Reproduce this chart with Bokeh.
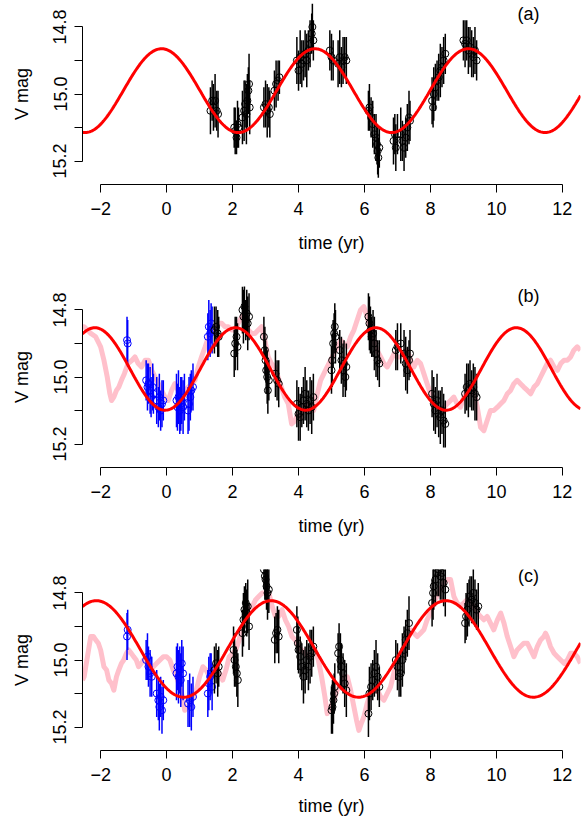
import numpy as np
from bokeh.plotting import figure
from bokeh.models import Range1d, FixedTicker, Label, ColumnDataSource
from bokeh.layouts import column
from bokeh.embed import file_html
from bokeh.resources import INLINE

# ---------------- data: panel (a) ----------------
a_t = [1.33, 1.38, 1.42, 1.47, 1.52, 1.56,
       2.05, 2.08, 2.12, 2.15, 2.18,
       2.30, 2.35, 2.38, 2.42, 2.45, 2.48, 2.50, 2.52,
       2.95, 3.00, 3.05, 3.10, 3.13,
       3.27, 3.32, 3.38, 3.42,
       3.95, 4.00, 4.05, 4.10, 4.15, 4.20, 4.25, 4.30, 4.35, 4.40, 4.42, 4.45,
       4.95, 5.00, 5.05, 5.20, 5.25, 5.30, 5.35, 5.40, 5.45,
       6.12, 6.15, 6.20, 6.25, 6.30, 6.35, 6.38, 6.40, 6.42, 6.45,
       6.88, 6.92, 6.95, 7.00, 7.10, 7.15, 7.20, 7.25, 7.30, 7.35, 7.38,
       8.05, 8.08, 8.10, 8.15, 8.20, 8.25, 8.30, 8.35, 8.40, 8.45,
       9.00, 9.05, 9.10, 9.15, 9.20, 9.25, 9.30, 9.35, 9.40]
a_mag = [15.05, 15.02, 15.04, 15.02, 15.05, 15.06,
         15.10, 15.11, 15.13, 15.09, 15.10,
         15.07, 15.05, 15.03, 15.06, 15.02, 14.99, 14.97, 15.04,
         15.04, 15.03, 15.05, 15.04, 15.06,
         14.99, 14.97, 14.96, 14.95,
         14.90, 14.93, 14.89, 14.91, 14.90, 14.88, 14.90, 14.87, 14.85, 14.82, 14.80, 14.84,
         14.87, 14.89, 14.90, 14.91, 14.89, 14.92, 14.90, 14.89, 14.90,
         15.05, 15.04, 15.07, 15.09, 15.12, 15.13, 15.15, 15.17, 15.19, 15.16,
         15.14, 15.12, 15.16, 15.12, 15.12, 15.14, 15.16, 15.13, 15.10, 15.07, 15.08,
         15.02, 15.04, 15.00, 14.98, 14.96, 14.95, 14.93, 14.92, 14.90, 14.88,
         14.84, 14.85, 14.84, 14.87, 14.86, 14.88, 14.89, 14.87, 14.90]
a_err = [0.07, 0.06, 0.07, 0.08, 0.06, 0.07,
         0.06, 0.07, 0.05, 0.07, 0.06,
         0.08, 0.09, 0.07, 0.09, 0.08, 0.07, 0.09, 0.08,
         0.06, 0.07, 0.08, 0.06, 0.07,
         0.06, 0.07, 0.06, 0.05,
         0.07, 0.06, 0.08, 0.07, 0.06, 0.07, 0.08, 0.06, 0.07, 0.06, 0.07, 0.06,
         0.06, 0.07, 0.06, 0.07, 0.08, 0.06, 0.07, 0.06, 0.07,
         0.06, 0.07, 0.06, 0.07, 0.06, 0.07, 0.06, 0.07, 0.06, 0.06,
         0.07, 0.06, 0.07, 0.06, 0.08, 0.06, 0.07, 0.06, 0.07, 0.08, 0.06,
         0.07, 0.06, 0.08, 0.07, 0.06, 0.07, 0.08, 0.06, 0.07, 0.06,
         0.06, 0.07, 0.06, 0.07, 0.06, 0.07, 0.06, 0.07, 0.06]
# sinusoid model (a): period, time of maximum brightness, mean, semi-amplitude
a_period, a_tmax, a_mean, a_amp = 4.65, -0.15, 14.99, 0.125

# ---------------- data: panel (b) ----------------
b_blue_t = [-1.20, -1.18,
            -0.62, -0.58, -0.55, -0.50, -0.47, -0.42, -0.40,
            -0.30, -0.25, -0.22, -0.18, -0.14, -0.10,
            0.30, 0.33, 0.36, 0.40, 0.43, 0.46, 0.50, 0.54,
            0.65, 0.68, 0.72, 0.75, 0.80,
            1.25, 1.28, 1.32, 1.35, 1.38]
b_blue_mag = [14.89, 14.90,
              15.01, 15.03, 15.02, 15.04, 15.06, 15.03, 15.05,
              15.07, 15.09, 15.06, 15.10, 15.08, 15.07,
              15.07, 15.09, 15.06, 15.10, 15.08, 15.07, 15.09, 15.06,
              15.10, 15.08, 15.06, 15.04, 15.03,
              14.88, 14.85, 14.87, 14.84, 14.86]
b_blue_err = [0.07, 0.07,
              0.06, 0.07, 0.06, 0.07, 0.06, 0.07, 0.06,
              0.07, 0.06, 0.07, 0.06, 0.07, 0.06,
              0.08, 0.07, 0.08, 0.07, 0.08, 0.07, 0.08, 0.07,
              0.07, 0.08, 0.07, 0.06, 0.07,
              0.07, 0.08, 0.07, 0.06, 0.07]
b_t = [1.45, 1.50, 1.55, 1.58,
       2.05, 2.08, 2.12, 2.15,
       2.30, 2.33, 2.36, 2.40, 2.43, 2.46, 2.50,
       2.95, 2.98, 3.00, 3.02, 3.05, 3.07, 3.10,
       3.30, 3.35, 3.40,
       3.95, 4.00, 4.05, 4.10, 4.15, 4.20, 4.25, 4.30, 4.35, 4.40, 4.45,
       5.00, 5.02, 5.05, 5.08, 5.10, 5.12,
       5.25, 5.30, 5.35, 5.38, 5.42, 5.45,
       6.12, 6.15, 6.18, 6.22, 6.26, 6.30, 6.35, 6.40, 6.45,
       6.95, 7.00, 7.10, 7.20, 7.25, 7.30, 7.35, 7.38,
       8.05, 8.10, 8.15, 8.20, 8.25, 8.30, 8.35, 8.40, 8.45,
       9.05, 9.10, 9.15, 9.20, 9.25, 9.30, 9.35, 9.40]
b_mag = [14.86, 14.85, 14.87, 14.88,
         14.93, 14.90, 14.88, 14.91,
         14.80, 14.82, 14.79, 14.83, 14.81, 14.84, 14.82,
         14.88, 14.92, 14.95, 14.98, 15.00, 15.04, 15.01,
         14.99, 15.01, 15.02,
         15.08, 15.11, 15.12, 15.09, 15.07, 15.05, 15.08, 15.10, 15.07, 15.09, 15.06,
         14.98, 14.95, 14.90, 14.87, 14.85, 14.88,
         14.92, 14.95, 14.98, 14.96, 15.00, 14.97,
         14.82, 14.84, 14.86, 14.88, 14.87, 14.90, 14.93, 14.95, 14.96,
         14.92, 14.91, 14.90, 14.93, 14.96, 14.98, 14.95, 14.93,
         15.05, 15.08, 15.10, 15.07, 15.11, 15.12, 15.10, 15.13, 15.14,
         15.05, 15.03, 15.04, 15.02, 15.04, 15.03, 15.05, 15.06]
b_err = [0.07, 0.06, 0.07, 0.06,
         0.07, 0.08, 0.06, 0.07,
         0.07, 0.08, 0.07, 0.06, 0.07, 0.08, 0.07,
         0.06, 0.07, 0.06, 0.07, 0.08, 0.07, 0.06,
         0.07, 0.06, 0.07,
         0.07, 0.08, 0.07, 0.06, 0.07, 0.08, 0.07, 0.06, 0.07, 0.08, 0.07,
         0.07, 0.08, 0.07, 0.06, 0.07, 0.08,
         0.06, 0.07, 0.08, 0.07, 0.06, 0.07,
         0.07, 0.08, 0.07, 0.06, 0.07, 0.08, 0.07, 0.06, 0.07,
         0.06, 0.07, 0.06, 0.07, 0.08, 0.07, 0.06, 0.07,
         0.07, 0.08, 0.07, 0.08, 0.07, 0.08, 0.07, 0.08, 0.07,
         0.06, 0.07, 0.08, 0.07, 0.06, 0.07, 0.08, 0.07]
b_pink_t = [-2.55, -2.50, -2.40, -2.30, -2.15, -2.05, -2.00, -1.90, -1.80, -1.72,
            -1.67, -1.60, -1.52, -1.45, -1.37, -1.28, -1.17, -1.05, -0.96, -0.86,
            -0.76, -0.65, -0.55, -0.45, -0.35, -0.25, -0.15, -0.05, 0.05, 0.15,
            0.25, 0.35, 0.46, 0.56, 0.66, 0.76, 0.86, 0.96, 1.06, 1.17,
            1.27, 1.37, 1.47, 1.57, 1.67, 1.77, 1.87, 1.97, 2.07, 2.17,
            2.28, 2.38, 2.48, 2.58, 2.68, 2.78, 2.88, 2.98, 3.08, 3.18,
            3.28, 3.38, 3.48, 3.58, 3.69, 3.79, 3.90, 3.97, 4.07, 4.17,
            4.27, 4.37, 4.46, 4.57, 4.67, 4.77, 4.87, 4.97, 5.07, 5.18,
            5.28, 5.38, 5.48, 5.58, 5.68, 5.78, 5.88, 5.98, 6.08, 6.18,
            6.28, 6.38, 6.49, 6.59, 6.69, 6.80, 6.90, 7.00, 7.10, 7.20,
            7.30, 7.40, 7.50, 7.60, 7.70, 7.80, 7.90, 8.00, 8.10, 8.20,
            8.30, 8.41, 8.51, 8.61, 8.71, 8.81, 8.91, 9.01, 9.11, 9.21,
            9.32, 9.42, 9.52, 9.62, 9.72, 9.82, 9.92, 10.03, 10.13, 10.23,
            10.33, 10.43, 10.53, 10.63, 10.73, 10.83, 10.94, 11.04, 11.14, 11.24,
            11.34, 11.44, 11.54, 11.64, 11.75, 11.85, 11.95, 12.05, 12.15, 12.25,
            12.35, 12.45, 12.55]
b_pink_mag = [14.85, 14.85, 14.86, 14.87, 14.88, 14.90, 14.91, 14.95, 15.00, 15.05,
              15.07, 15.06, 15.04, 15.03, 15.01, 14.99, 14.96, 14.95, 14.94, 14.96,
              14.97, 14.95, 14.95, 14.98, 15.00, 15.02, 15.04, 15.06, 15.07, 15.04,
              15.02, 15.04, 15.05, 15.04, 15.03, 15.02, 15.01, 14.97, 14.94, 14.91,
              14.88, 14.86, 14.85, 14.84, 14.84, 14.85, 14.85, 14.86, 14.86, 14.84,
              14.82, 14.84, 14.86, 14.87, 14.87, 14.86, 14.85, 14.89, 14.94, 14.96,
              14.97, 15.00, 15.03, 15.06, 15.08, 15.14, 15.13, 15.11, 15.12, 15.09,
              15.08, 15.10, 15.10, 15.05, 15.01, 14.99, 14.97, 14.95, 14.93, 14.91,
              14.89, 14.90, 14.91, 14.88, 14.86, 14.83, 14.80, 14.79, 14.82, 14.86,
              14.89, 14.92, 14.94, 14.96, 14.97, 14.95, 14.93, 14.94, 14.94, 14.93,
              14.92, 14.95, 14.97, 14.95, 14.96, 14.99, 15.02, 15.05, 15.07, 15.09,
              15.10, 15.09, 15.08, 15.07, 15.06, 15.08, 15.09, 15.06, 15.04, 15.05,
              15.04, 15.09, 15.15, 15.16, 15.13, 15.10, 15.10, 15.09, 15.08, 15.07,
              15.05, 15.04, 15.02, 15.01, 15.02, 15.03, 15.04, 15.05, 15.03, 15.02,
              15.00, 14.98, 14.96, 14.95, 14.97, 14.98, 14.96, 14.95, 14.95, 14.94,
              14.92, 14.91, 14.92]
b_period, b_tmax, b_mean, b_amp = 4.26, -2.175, 14.976, 0.123

# ---------------- data: panel (c) ----------------
c_blue_t = [-1.20, -1.18,
            -0.62, -0.58, -0.55, -0.50, -0.45,
            -0.30, -0.25, -0.22, -0.18, -0.14, -0.10,
            0.30, 0.33, 0.36, 0.40, 0.43, 0.46, 0.50,
            0.65, 0.70, 0.75, 0.80,
            1.25, 1.28, 1.32, 1.35, 1.38]
c_blue_mag = [14.93, 14.91,
              15.00, 14.99, 15.02, 15.04, 15.05,
              15.10, 15.12, 15.14, 15.11, 15.15, 15.12,
              15.04, 15.02, 15.05, 15.03, 15.06, 15.01, 15.04,
              15.13, 15.12, 15.14, 15.11,
              15.10, 15.07, 15.05, 15.04, 15.08]
c_blue_err = [0.07, 0.06,
              0.06, 0.07, 0.06, 0.07, 0.06,
              0.07, 0.06, 0.07, 0.06, 0.07, 0.06,
              0.08, 0.07, 0.08, 0.07, 0.08, 0.07, 0.08,
              0.07, 0.08, 0.07, 0.06,
              0.07, 0.08, 0.07, 0.06, 0.07]
c_t = [1.45, 1.50, 1.55, 1.58,
       2.03, 2.06, 2.10, 2.13, 2.16,
       2.30, 2.33, 2.36, 2.40, 2.43, 2.46, 2.50,
       2.95, 2.98, 3.00, 3.03, 3.06, 3.10,
       3.28, 3.32, 3.36, 3.40,
       3.95, 3.98, 4.00, 4.05, 4.10, 4.15, 4.20, 4.25, 4.30, 4.35, 4.40, 4.45,
       5.00, 5.03, 5.06, 5.08, 5.10,
       5.20, 5.23, 5.27, 5.30, 5.35, 5.40, 5.45,
       6.12, 6.15, 6.20, 6.25, 6.30, 6.35, 6.40, 6.45,
       6.95, 7.00, 7.05, 7.10, 7.15, 7.20, 7.25, 7.30, 7.35,
       8.05, 8.08, 8.10, 8.15, 8.20, 8.25, 8.30, 8.35, 8.40, 8.45,
       9.05, 9.08, 9.12, 9.17, 9.20, 9.25, 9.30, 9.35, 9.40, 9.45]
c_mag = [15.03, 15.01, 15.04, 15.02,
         14.97, 15.00, 15.02, 15.04, 15.06,
         14.92, 14.88, 14.85, 14.83, 14.86, 14.84, 14.90,
         14.73, 14.75, 14.76, 14.78, 14.80, 14.79,
         14.94, 14.92, 14.91, 14.93,
         14.91, 14.95, 14.97, 14.99, 15.02, 15.05, 15.03, 15.00, 15.02, 14.99, 14.98, 14.96,
         15.15, 15.14, 15.12, 15.10, 15.08,
         14.98, 14.96, 15.00, 15.02, 15.04, 15.07, 15.09,
         15.16, 15.10, 15.08, 15.06, 15.04, 15.02, 15.05, 15.08,
         15.00, 15.02, 15.05, 15.04, 15.00, 14.97, 14.94, 14.92, 14.89,
         14.83, 14.80, 14.78, 14.76, 14.74, 14.73, 14.75, 14.74, 14.77, 14.79,
         14.89, 14.87, 14.85, 14.83, 14.81, 14.82, 14.80, 14.83, 14.85, 14.84]
c_err = [0.07, 0.06, 0.07, 0.06,
         0.07, 0.08, 0.06, 0.07, 0.08,
         0.07, 0.08, 0.07, 0.06, 0.07, 0.08, 0.07,
         0.06, 0.07, 0.06, 0.07, 0.08, 0.07,
         0.07, 0.06, 0.07, 0.08,
         0.07, 0.08, 0.07, 0.06, 0.07, 0.08, 0.07, 0.06, 0.07, 0.08, 0.07, 0.06,
         0.07, 0.08, 0.07, 0.06, 0.07,
         0.06, 0.07, 0.08, 0.07, 0.06, 0.07, 0.08,
         0.07, 0.08, 0.07, 0.06, 0.07, 0.08, 0.07, 0.06,
         0.06, 0.07, 0.06, 0.07, 0.08, 0.07, 0.06, 0.07, 0.08,
         0.07, 0.08, 0.07, 0.08, 0.07, 0.08, 0.07, 0.08, 0.07, 0.08,
         0.06, 0.07, 0.08, 0.07, 0.06, 0.07, 0.08, 0.07, 0.06, 0.07]
c_pink_t = [-2.55, -2.50, -2.45, -2.40, -2.30, -2.22, -2.15, -2.07, -2.00, -1.90,
            -1.82, -1.75, -1.67, -1.60, -1.52, -1.45, -1.37, -1.30, -1.22, -1.15,
            -1.07, -1.00, -0.92, -0.85, -0.77, -0.70, -0.60, -0.50, -0.40, -0.30,
            -0.20, -0.10, 0.00, 0.10, 0.20, 0.30, 0.40, 0.48, 0.55, 0.62,
            0.70, 0.80, 0.90, 1.00, 1.10, 1.20, 1.30, 1.40, 1.50, 1.60,
            1.70, 1.80, 1.90, 2.00, 2.10, 2.20, 2.30, 2.40, 2.50, 2.60,
            2.70, 2.80, 2.90, 3.00, 3.10, 3.20, 3.30, 3.40, 3.50, 3.60,
            3.70, 3.80, 3.90, 4.00, 4.10, 4.20, 4.30, 4.40, 4.50, 4.60,
            4.70, 4.80, 4.87, 4.97, 5.07, 5.17, 5.28, 5.38, 5.48, 5.58,
            5.68, 5.76, 5.83, 5.90, 5.98, 6.08, 6.18, 6.28, 6.39, 6.49,
            6.59, 6.69, 6.79, 6.89, 6.99, 7.10, 7.20, 7.30, 7.40, 7.50,
            7.60, 7.70, 7.80, 7.90, 8.00, 8.10, 8.20, 8.30, 8.41, 8.51,
            8.61, 8.71, 8.81, 8.91, 9.01, 9.11, 9.21, 9.32, 9.42, 9.52,
            9.62, 9.72, 9.82, 9.92, 10.03, 10.13, 10.23, 10.33, 10.43, 10.53,
            10.63, 10.73, 10.83, 10.94, 11.04, 11.14, 11.24, 11.34, 11.44, 11.49,
            11.54, 11.64, 11.75, 11.85, 11.95, 12.05, 12.15, 12.25, 12.35, 12.45,
            12.55]
c_pink_mag = [15.06, 15.05, 15.02, 14.99, 14.93, 14.93, 14.94, 14.95, 14.97, 15.02,
              15.03, 15.06, 15.07, 15.09, 15.05, 15.03, 15.01, 15.00, 14.98, 14.97,
              14.98, 14.99, 15.00, 15.02, 15.01, 15.00, 15.01, 15.03, 15.02, 15.01,
              15.00, 14.99, 14.99, 15.00, 15.03, 15.05, 15.08, 15.11, 15.15, 15.14,
              15.14, 15.11, 15.09, 15.05, 15.02, 15.03, 15.05, 15.04, 15.02, 15.04,
              15.06, 15.03, 14.99, 14.98, 14.97, 14.94, 14.90, 14.88, 14.85, 14.84,
              14.82, 14.81, 14.80, 14.80, 14.80, 14.84, 14.87, 14.87, 14.85, 14.88,
              14.90, 14.93, 14.94, 14.96, 14.97, 14.98, 14.99, 14.98, 14.97, 15.00,
              15.05, 15.11, 15.16, 15.14, 15.12, 15.09, 15.07, 15.05, 15.05, 15.09,
              15.14, 15.18, 15.21, 15.19, 15.17, 15.13, 15.10, 15.09, 15.09, 15.11,
              15.12, 15.10, 15.08, 15.04, 15.00, 14.99, 14.98, 14.94, 14.91, 14.92,
              14.93, 14.92, 14.91, 14.88, 14.86, 14.83, 14.81, 14.79, 14.77, 14.76,
              14.76, 14.81, 14.83, 14.84, 14.83, 14.82, 14.83, 14.84, 14.86, 14.87,
              14.88, 14.87, 14.89, 14.91, 14.88, 14.86, 14.89, 14.93, 14.96, 14.99,
              14.97, 14.96, 14.95, 14.95, 14.97, 14.99, 14.96, 14.94, 14.93, 14.92,
              14.93, 14.96, 14.98, 14.99, 15.00, 15.01, 15.00, 14.98, 14.98, 14.99,
              15.01]
c_period, c_tmax, c_mean, c_amp = 5.30, -2.13, 14.967, 0.144

x_ticks = [-2, 0, 2, 4, 6, 8, 10, 12]
y_ticks = [14.8, 14.9, 15.0, 15.1, 15.2]
y_tick_labels = ["14.8", "", "15.0", "", "15.2"]
panel_tags = ["(a)", "(b)", "(c)"]

FONT = "Liberation Sans"
FS = "18px"
X_RANGE = (-2.55, 12.55)
Y_RANGE = (15.27, 14.73)


def sinusoid(period, tmax, mean, amp):
    tt = np.linspace(X_RANGE[0], X_RANGE[1], 500)
    return tt, mean - amp * np.cos(2 * np.pi * (tt - tmax) / period)


def errsrc(t, m, e):
    t = np.asarray(t); m = np.asarray(m); e = np.asarray(e)
    return ColumnDataSource(dict(t=t, mag=m, lo=m - e, hi=m + e))


def make_panel(height, border_top, border_bottom, tag, tag_y,
               pink, blue, black, model, label_standoff):
    p = figure(width=585, height=height, x_range=Range1d(*X_RANGE),
               y_range=Range1d(*Y_RANGE), output_backend="svg", toolbar_location=None,
               min_border_left=82, min_border_right=5,
               min_border_top=border_top, min_border_bottom=border_bottom)
    p.outline_line_color = None
    p.xgrid.visible = False
    p.ygrid.visible = False
    p.background_fill_color = "white"
    p.border_fill_color = "white"

    if pink is not None:
        p.line(pink[0], pink[1], line_color="pink", line_width=5, line_join="round")
    for data, col in ((blue, "blue"), (black, "black")):
        if data is None:
            continue
        src = errsrc(*data)
        p.segment(x0="t", y0="lo", x1="t", y1="hi", source=src,
                  line_color=col, line_width=1.5)
        p.scatter("t", "mag", source=src, marker="circle", size=7,
                  fill_color=None, line_color=col, line_width=1)
    tt, mm = sinusoid(*model)
    p.line(tt, mm, line_color="red", line_width=3)

    p.add_layout(Label(x=10.97, y=tag_y, text=tag, text_align="center",
                       text_baseline="middle", text_font=FONT,
                       text_font_size=FS, text_color="black"))

    for ax in (p.xaxis[0], p.yaxis[0]):
        ax.axis_line_color = "black"
        ax.axis_line_width = 1
        ax.major_tick_line_color = "black"
        ax.major_tick_out = 8
        ax.major_tick_in = 0
        ax.minor_tick_line_color = None
        ax.major_label_text_font = FONT
        ax.major_label_text_font_size = FS
        ax.major_label_text_color = "black"
        ax.axis_label_text_font = FONT
        ax.axis_label_text_font_size = FS
        ax.axis_label_text_font_style = "normal"
        ax.axis_label_text_color = "black"

    xa = p.xaxis[0]
    xa.ticker = FixedTicker(ticks=x_ticks, minor_ticks=[])
    xa.bounds = (x_ticks[0], x_ticks[-1])
    xa.major_label_overrides = {v: (str(v).replace("-", "\u2212")) for v in x_ticks}
    xa.axis_label = "time (yr)"
    xa.major_label_standoff = 9
    xa.axis_label_standoff = label_standoff

    ya = p.yaxis[0]
    ya.ticker = FixedTicker(ticks=y_ticks, minor_ticks=[])
    ya.bounds = (y_ticks[0], y_ticks[-1])
    ya.major_label_overrides = {v: s for v, s in zip(y_ticks, y_tick_labels)}
    ya.major_label_orientation = "vertical"
    ya.axis_label = "V mag"
    ya.major_label_standoff = 8
    ya.axis_label_standoff = 19
    return p


pa = make_panel(264, 3, 80, panel_tags[0], 14.761,
                None, None, (a_t, a_mag, a_err),
                (a_period, a_tmax, a_mean, a_amp), 15)
pb = make_panel(283, 22, 80, panel_tags[1], 14.758,
                (b_pink_t, b_pink_mag), (b_blue_t, b_blue_mag, b_blue_err),
                (b_t, b_mag, b_err), (b_period, b_tmax, b_mean, b_amp), 15)
pc = make_panel(274, 22, 71, panel_tags[2], 14.750,
                (c_pink_t, c_pink_mag), (c_blue_t, c_blue_mag, c_blue_err),
                (c_t, c_mag, c_err), (c_period, c_tmax, c_mean, c_amp), 12)

layout = column(pa, pb, pc, spacing=0)
open("out.html", "w").write(file_html(layout, INLINE))
